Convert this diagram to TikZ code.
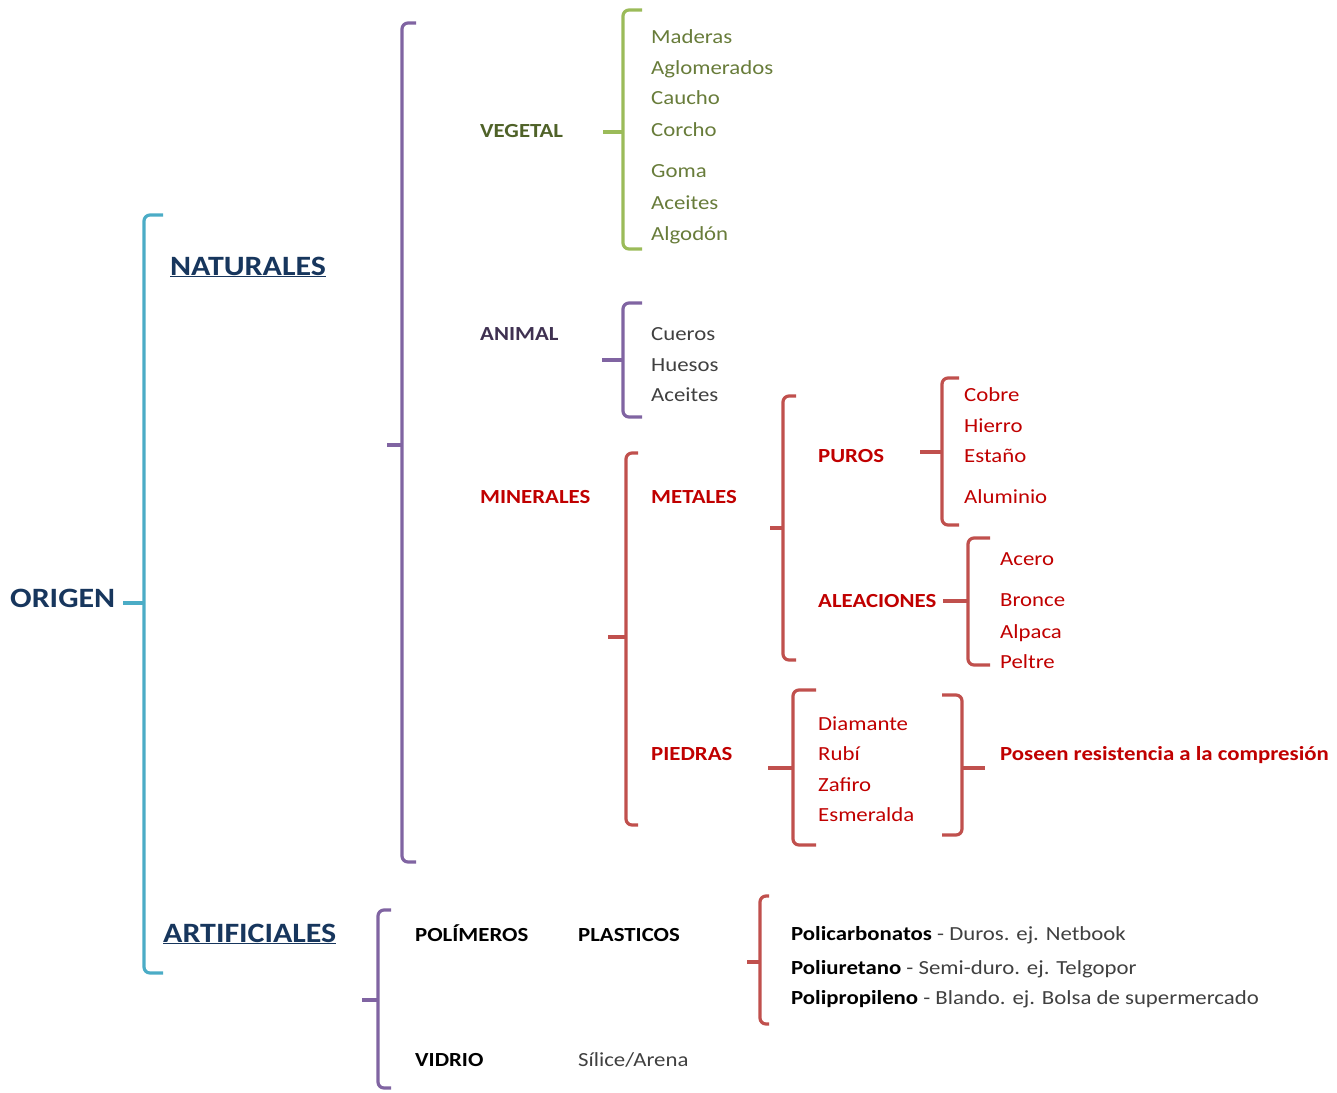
\documentclass[tikz,border=0pt]{standalone}
\usepackage{fontspec}
\setmainfont{Carlito}[FakeStretch=1.14]
\usepackage{tikz}
\definecolor{celestito}{RGB}{75,172,198}
\definecolor{violetita}{RGB}{128,100,162}
\definecolor{verdecito}{RGB}{155,187,89}
\definecolor{rojito}{RGB}{192,80,77}
\definecolor{marino}{RGB}{23,54,93}
\definecolor{uva}{RGB}{63,49,81}
\definecolor{oliva}{RGB}{79,98,40}
\definecolor{olivita}{RGB}{104,124,58}
\definecolor{carmin}{RGB}{192,0,0}
\definecolor{grisito}{RGB}{64,64,64}
\tikzset{
  titulo/.style={anchor=base west, inner sep=0pt, font=\fontsize{28}{32}\selectfont\bfseries, text=marino},
  rama/.style={anchor=base west, inner sep=0pt, font=\fontsize{20}{24}\selectfont\bfseries},
  hoja/.style={anchor=base west, inner sep=0pt, font=\fontsize{20}{24}\selectfont}
}
% llave: color, x, arriba, abajo, gancho, medio, punta
\newcommand{\llave}[7]{%
  \draw [#1, line width=3.2pt, rounded corners=6pt] (#5,#3) -- (#2,#3) -- (#2,#4) -- (#5,#4);
  \draw [#1, line width=3.2pt] (#2,#6) -- (#7,#6);}

\begin{document}
\begin{tikzpicture}[x=1pt, y=-1pt]
	\useasboundingbox (0,0) rectangle (1337,1092);

	\node [titulo] (origen) at (10,607) {ORIGEN};
	\llave{celestito}{144}{215}{973}{163}{603}{123}
	\node [titulo] (naturales) at (170,275) {\underline{NATURALES}};
	\node [titulo] (artificiales) at (163,942) {\underline{ARTIFICIALES}};

	% naturales
	\llave{violetita}{402}{23}{862}{416}{445}{387}
	\node [rama, text=oliva] (vegetal) at (480,137) {VEGETAL};
	\llave{verdecito}{623}{10}{249}{642}{132}{603}
	\node [hoja, text=olivita] (maderas) at (651,43) {Maderas};
	\node [hoja, text=olivita] (aglomerados) at (651,74) {Aglomerados};
	\node [hoja, text=olivita] (caucho) at (651,104) {Caucho};
	\node [hoja, text=olivita] (corcho) at (651,136) {Corcho};
	\node [hoja, text=olivita] (goma) at (651,177) {Goma};
	\node [hoja, text=olivita] (aceitesv) at (651,209) {Aceites};
	\node [hoja, text=olivita] (algodon) at (651,240) {Algodón};

	\node [rama, text=uva] (animal) at (480,340) {ANIMAL};
	\llave{violetita}{623}{303}{417}{642}{360}{602}
	\node [hoja, text=grisito] (cueros) at (651,340) {Cueros};
	\node [hoja, text=grisito] (huesos) at (651,371) {Huesos};
	\node [hoja, text=grisito] (aceitesa) at (651,401) {Aceites};

	\node [rama, text=carmin] (minerales) at (480,503) {MINERALES};
	\llave{rojito}{626}{453}{825}{638}{637}{608}
	\node [rama, text=carmin] (metales) at (651,503) {METALES};
	\llave{rojito}{783}{396}{660}{796}{528}{770}
	\node [rama, text=carmin] (puros) at (818,462) {PUROS};
	\llave{rojito}{942}{378}{525}{959}{452}{920}
	\node [hoja, text=carmin] (cobre) at (964,401) {Cobre};
	\node [hoja, text=carmin] (hierro) at (964,432) {Hierro};
	\node [hoja, text=carmin] (estano) at (964,462) {Estaño};
	\node [hoja, text=carmin] (aluminio) at (964,503) {Aluminio};
	\node [rama, text=carmin] (aleaciones) at (818,607) {ALEACIONES};
	\llave{rojito}{968}{538}{665}{990}{601}{943}
	\node [hoja, text=carmin] (acero) at (1000,565) {Acero};
	\node [hoja, text=carmin] (bronce) at (1000,606) {Bronce};
	\node [hoja, text=carmin] (alpaca) at (1000,638) {Alpaca};
	\node [hoja, text=carmin] (peltre) at (1000,668) {Peltre};

	\node [rama, text=carmin] (piedras) at (651,760) {PIEDRAS};
	\llave{rojito}{793}{690}{845}{816}{768}{768}
	\node [hoja, text=carmin] (diamante) at (818,730) {Diamante};
	\node [hoja, text=carmin] (rubi) at (818,760) {Rubí};
	\node [hoja, text=carmin] (zafiro) at (818,791) {Zafiro};
	\node [hoja, text=carmin] (esmeralda) at (818,821) {Esmeralda};
	\llave{rojito}{962}{695}{835}{942}{768}{985}
	\node [rama, text=carmin] (poseen) at (1000,760) {Poseen resistencia a la compresión};

	% artificiales
	\llave{violetita}{378}{910}{1088}{391}{1000}{362}
	\node [rama, text=black] (polimeros) at (415,941) {POLÍMEROS};
	\node [rama, text=black] (plasticos) at (578,941) {PLASTICOS};
	\llave{rojito}{760}{896}{1024}{769}{962}{747}
	\node [hoja, text=grisito] (policarb) at (791,940) {\textbf{\color{black}Policarbonatos} - Duros. ej. Netbook};
	\node [hoja, text=grisito] (poliuret) at (791,974) {\textbf{\color{black}Poliuretano} - Semi-duro. ej. Telgopor};
	\node [hoja, text=grisito] (poliprop) at (791,1004) {\textbf{\color{black}Polipropileno} - Blando. ej. Bolsa de supermercado};
	\node [rama, text=black] (vidrio) at (415,1066) {VIDRIO};
	\node [hoja, text=grisito] (silice) at (578,1066) {Sílice/Arena};
\end{tikzpicture}
\end{document}
